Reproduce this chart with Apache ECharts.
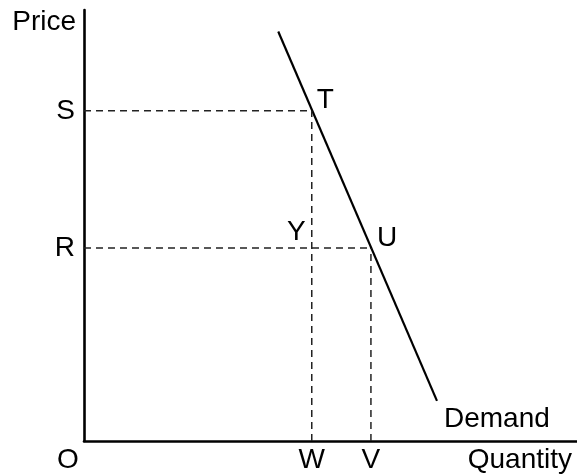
<!DOCTYPE html>
<html>
<head>
<meta charset="utf-8">
<style>
  html, body { margin: 0; padding: 0; background: #fff; }
  #main { width: 577px; height: 476px; }
</style>
<script src="https://cdn.jsdelivr.net/npm/echarts@6/dist/echarts.min.js"></script>
</head>
<body>
<div id="main"></div>
<script>
// diagram values, axes run 0..100 with no units
const demandLine = [[39.4, 95], [71.6, 9.3]];
const pointNames = ['T', 'U'];
const pointQuantity = [46.2, 58.2];   // W, V
const pointPrice = [76.6, 44.8];      // S, R
const priceNames = ['S', 'R'];
const quantityNames = ['W', 'V'];
const crossName = 'Y';

const font = 'Arial, "Liberation Sans", sans-serif';
const txt = { color: '#000', fontSize: 28, fontFamily: font };

// dashed guides from each point down to quantity and across to price
const guides = [];
pointNames.forEach((n, i) => {
  guides.push([[0, pointPrice[i]], [pointQuantity[i], pointPrice[i]]]);
  guides.push([[pointQuantity[i], 0], [pointQuantity[i], pointPrice[i]]]);
});

const labelItems = [];
priceNames.forEach((n, i) => {
  labelItems.push({ value: [0, pointPrice[i]], label: { formatter: n, position: 'left', distance: 9 } });
});
quantityNames.forEach((n, i) => {
  labelItems.push({ value: [pointQuantity[i], 0], label: { formatter: n, position: 'bottom', distance: 5 } });
});
labelItems.push({ value: [0, 0], label: { formatter: 'O', position: 'bottom', distance: 5, offset: [-16, 0] } });
labelItems.push({ value: [100, 0], label: { formatter: 'Quantity', position: 'bottom', distance: 5, align: 'right', offset: [-5, 0] } });
labelItems.push({ value: [pointQuantity[0], pointPrice[0]], label: { formatter: pointNames[0], position: 'right', distance: 5, offset: [0, -11] } });
labelItems.push({ value: [pointQuantity[1], pointPrice[1]], label: { formatter: pointNames[1], position: 'right', distance: 6, offset: [0, -10] } });
labelItems.push({ value: [pointQuantity[0], pointPrice[1]], label: { formatter: crossName, position: 'left', distance: 6, offset: [0, -16] } });
labelItems.push({ value: demandLine[1], label: { formatter: 'Demand', position: 'right', distance: 7, offset: [0, 18] } });

const series = [{
  type: 'line',
  data: demandLine,
  symbol: 'none',
  lineStyle: { color: '#000', width: 2.2 }
}];
guides.forEach(seg => {
  series.push({
    type: 'line',
    data: seg,
    symbol: 'none',
    lineStyle: { color: '#222', width: 1.5, type: [7, 5] }
  });
});
series.push({
  type: 'scatter',
  data: labelItems,
  symbolSize: 0,
  clip: false,
  itemStyle: { color: '#000', opacity: 1 },
  label: Object.assign({ show: true, textBorderWidth: 0 }, txt)
});

const chart = echarts.init(document.getElementById('main'));
chart.setOption({
  animation: false,
  backgroundColor: '#fff',
  grid: { left: 84, right: 0, top: 10, bottom: 35 },
  xAxis: {
    type: 'value', min: 0, max: 100,
    axisLine: { lineStyle: { color: '#000', width: 2.6 } },
    axisTick: { show: false }, axisLabel: { show: false }, splitLine: { show: false }
  },
  yAxis: {
    type: 'value', min: 0, max: 100,
    name: 'Price', nameLocation: 'end', nameGap: -12,
    nameTextStyle: Object.assign({ align: 'right', verticalAlign: 'middle', padding: [0, 8, 0, 0] }, txt),
    axisLine: { lineStyle: { color: '#000', width: 2.6 } },
    axisTick: { show: false }, axisLabel: { show: false }, splitLine: { show: false }
  },
  series: series
});
</script>
</body>
</html>
